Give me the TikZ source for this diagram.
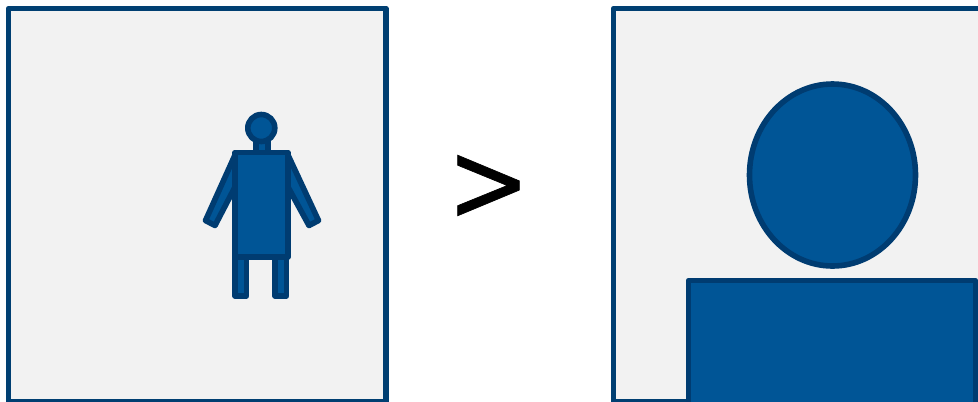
\documentclass[tikz,border=0pt]{standalone}
\usepackage{fontspec}
\setmainfont{DejaVu Sans}
\newfontfamily\gtfont[FakeBold=0.6]{DejaVu Sans}
\definecolor{framec}{HTML}{003F72}
\definecolor{fillc}{HTML}{005596}
\definecolor{linec}{HTML}{003C71}
\definecolor{panelc}{HTML}{F2F2F2}
\tikzset{
  panel/.style={draw=framec,fill=panelc,line width=4.2pt,line join=round},
  part/.style={draw=linec,fill=fillc,line width=4.2pt,line join=round}
}
\begin{document}
\begin{tikzpicture}[x=0.75pt,y=-0.75pt]
\useasboundingbox (0,0) rectangle (978,401);
\clip (0,0) rectangle (978,401);
% left panel
\draw[panel] (8.5,8.5) rectangle (386,402);
% right panel
\draw[panel] (613.5,8.5) rectangle (1000,402);
% figure
\draw[part] (235,155) -- (205.5,220.5) -- (215,225.5) -- (235,187) -- cycle;
\draw[part] (288,155) -- (318.5,220.5) -- (309,225.5) -- (288,187) -- cycle;
\draw[part] (235,255) rectangle (246.5,296);
\draw[part] (275,255) rectangle (286.5,296);
\draw[part] (256,135) rectangle (268,153);
\draw[part] (261.3,128) circle[radius=13.5];
\draw[part] (235,152.5) rectangle (288,257);
% large bust
\draw[part] (832.5,175) ellipse[x radius=83,y radius=91];
\draw[part] (688.5,280.5) rectangle (975.5,420);
\node[font=\gtfont\fontsize{85pt}{85pt}\selectfont,text=black,inner sep=0pt,anchor=base,xscale=0.87] (gt) at (488.5,221) {>};
\end{tikzpicture}
\end{document}
